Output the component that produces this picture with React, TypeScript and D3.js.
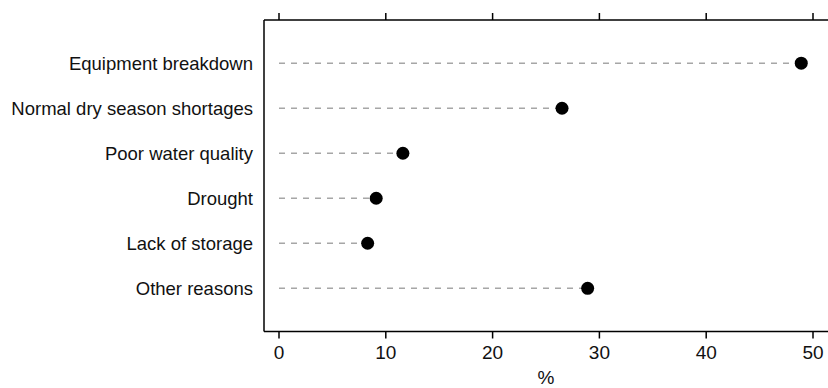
import React from "react";
import * as d3 from "d3";

// reasons for water supply interruptions, % of households
const reasons = [
  "Equipment breakdown",
  "Normal dry season shortages",
  "Poor water quality",
  "Drought",
  "Lack of storage",
  "Other reasons",
];
const percents = [48.9, 26.5, 11.6, 9.1, 8.3, 28.9];
const xTicks = [0, 10, 20, 30, 40, 50];

const W = 828;
const H = 388;
const left = 264;
const top = 20;
const bottom = 331.5;
const font = "'Liberation Sans', Arial, sans-serif";

export default function App() {
  const x = d3.scaleLinear().domain([0, 50]).range([279, 813]);
  const y = d3.scalePoint().domain(reasons).range([top, bottom]).padding(0.96);

  return (
    <svg
      width={W}
      height={H}
      style={{ position: "absolute", left: 0, top: 0, background: "#fff" }}
      fontFamily={font}
    >
      {/* frame: left, top and bottom sides only */}
      <line x1={left} x2={left} y1={top} y2={bottom} stroke="#000" strokeWidth={1.5} />
      <line x1={left} x2={W} y1={top} y2={top} stroke="#000" strokeWidth={1.5} />
      <line x1={left} x2={W} y1={bottom} y2={bottom} stroke="#000" strokeWidth={1.5} />

      {xTicks.map(t => (
        <g key={t}>
          <line x1={x(t)} x2={x(t)} y1={top} y2={top - 7} stroke="#000" strokeWidth={1.5} />
          <line x1={x(t)} x2={x(t)} y1={bottom} y2={bottom + 7} stroke="#000" strokeWidth={1.5} />
          <text x={x(t)} y={bottom + 27} textAnchor="middle" fontSize={19} fill="#111">
            {t}
          </text>
        </g>
      ))}
      <text x={x(25)} y={384} textAnchor="middle" fontSize={19} fill="#111">%</text>

      {reasons.map((r, i) => (
        <g key={r}>
          <text
            x={left - 11}
            y={y(r)}
            dy="0.35em"
            textAnchor="end"
            fontSize={18.5}
            fill="#111"
          >
            {r}
          </text>
          <line
            x1={x(0)}
            x2={x(percents[i])}
            y1={y(r)}
            y2={y(r)}
            stroke="#a6a6a6"
            strokeWidth={1.5}
            strokeDasharray="6,6"
          />
          <circle cx={x(percents[i])} cy={y(r)} r={6.5} fill="#000" />
        </g>
      ))}
    </svg>
  );
}
